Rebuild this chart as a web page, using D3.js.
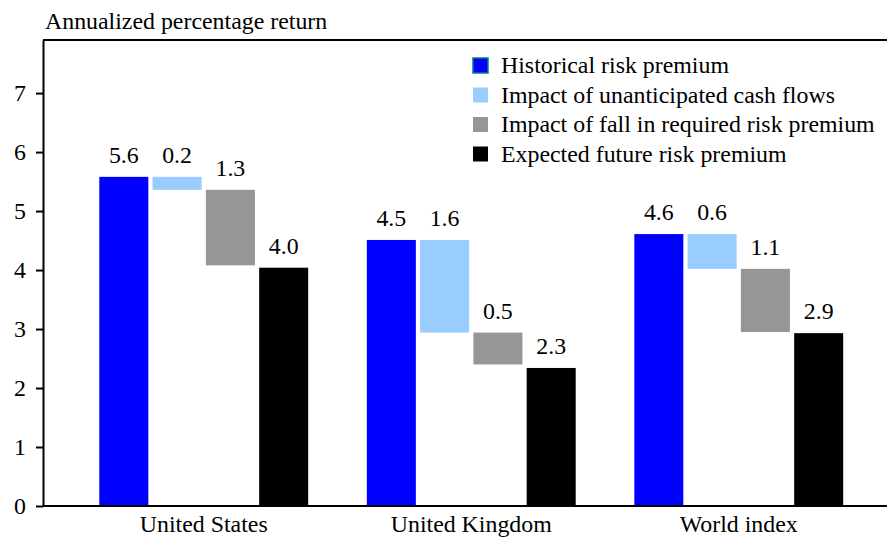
<!DOCTYPE html>
<html>
<head>
<meta charset="utf-8">
<script src="https://cdn.jsdelivr.net/npm/d3@7"></script>
<style>
  html, body { margin: 0; padding: 0; background: #fff; }
  svg { display: block; }
  svg text { font-family: "Liberation Serif", "DejaVu Serif", serif; fill: #000; }
</style>
</head>
<body>
<svg id="chart" width="887" height="540"></svg>
<script>
// data
const categories = ['United States', 'United Kingdom', 'World index'];
const seriesNames = [
  'Historical risk premium',
  'Impact of unanticipated cash flows',
  'Impact of fall in required risk premium',
  'Expected future risk premium'
];
const historical = [5.58, 4.51, 4.61];
const cashFlowImpact = [0.22, 1.57, 0.59];
const requiredPremiumImpact = [1.28, 0.54, 1.07];
const expected = [4.04, 2.34, 2.93];
const yTicks = [0, 1, 2, 3, 4, 5, 6, 7];
const colors = ['#0000ff', '#99ccff', '#969696', '#000000'];

const svg = d3.select('#chart');
const margin = { top: 40, left: 43, bottom: 34 };
const height = 540 - margin.bottom;

// pick a font size so the longest legend entry is as wide as in the reference
const probe = svg.append('text').attr('font-size', 20).text(seriesNames[2]);
const fs = Math.min(24, 20 * 374 / probe.node().getComputedTextLength());
probe.remove();

const y = d3.scaleLinear().domain([0, 7.9]).range([height, margin.top]);
const x0 = d3.scaleBand().domain(categories).range([70, 872.5]);
const x1 = d3.scaleBand().domain(seriesNames).range([0, x0.bandwidth()])
  .paddingInner(0.08).paddingOuter(0.55);

const bars = [];
categories.forEach((c, i) => {
  const h = historical[i];
  const afterCf = h - cashFlowImpact[i];
  const afterRp = afterCf - requiredPremiumImpact[i];
  bars.push({ cat: c, s: 0, lo: 0, hi: h, v: h });
  bars.push({ cat: c, s: 1, lo: afterCf, hi: h, v: cashFlowImpact[i] });
  bars.push({ cat: c, s: 2, lo: afterRp, hi: afterCf, v: requiredPremiumImpact[i] });
  bars.push({ cat: c, s: 3, lo: 0, hi: expected[i], v: expected[i] });
});

const g = svg.append('g');
g.selectAll('rect.bar')
  .data(bars)
  .join('rect')
  .attr('class', 'bar')
  .attr('x', d => x0(d.cat) + x1(seriesNames[d.s]))
  .attr('width', x1.bandwidth())
  .attr('y', d => y(d.hi))
  .attr('height', d => y(d.lo) - y(d.hi))
  .attr('fill', d => colors[d.s]);

g.selectAll('text.val')
  .data(bars)
  .join('text')
  .attr('class', 'val')
  .attr('x', d => x0(d.cat) + x1(seriesNames[d.s]) + x1.bandwidth() / 2)
  .attr('y', d => y(d.hi) - 14)
  .attr('text-anchor', 'middle')
  .attr('font-size', fs)
  .text(d => d3.format('.1f')(d.v));

// frame lines
svg.append('line')
  .attr('x1', margin.left).attr('x2', 887)
  .attr('y1', margin.top).attr('y2', margin.top)
  .attr('stroke', '#000').attr('stroke-width', 2);
svg.append('line')
  .attr('x1', margin.left).attr('x2', 887)
  .attr('y1', height).attr('y2', height)
  .attr('stroke', '#000').attr('stroke-width', 2);

const yAxis = svg.append('g')
  .attr('transform', `translate(${margin.left},0)`)
  .call(d3.axisLeft(y).tickValues(yTicks).tickFormat(d3.format('d')).tickSize(7).tickSizeOuter(0).tickPadding(10));
yAxis.attr('font-family', null);
yAxis.select('.domain').attr('stroke-width', 2);
yAxis.selectAll('.tick line').attr('stroke-width', 2);
yAxis.selectAll('text').attr('font-size', fs);

svg.append('g').selectAll('text')
  .data(categories)
  .join('text')
  .attr('x', d => x0(d) + x0.bandwidth() / 2)
  .attr('y', 532)
  .attr('text-anchor', 'middle')
  .attr('font-size', fs)
  .text(d => d);

svg.append('text')
  .attr('x', 45).attr('y', 29)
  .attr('font-size', fs)
  .text('Annualized percentage return');

// legend
const legend = svg.append('g').attr('transform', 'translate(473,58)');
const row = legend.selectAll('g')
  .data(seriesNames)
  .join('g')
  .attr('transform', (d, i) => `translate(0,${i * 29.5})`);
row.append('rect')
  .attr('width', 15).attr('height', 15)
  .attr('fill', (d, i) => colors[i])
  .attr('stroke', (d, i) => i === 0 ? '#008080' : 'none')
  .attr('stroke-width', 1.5);
row.append('text')
  .attr('x', 28).attr('y', 15)
  .attr('font-size', fs)
  .text(d => d);
</script>
</body>
</html>
